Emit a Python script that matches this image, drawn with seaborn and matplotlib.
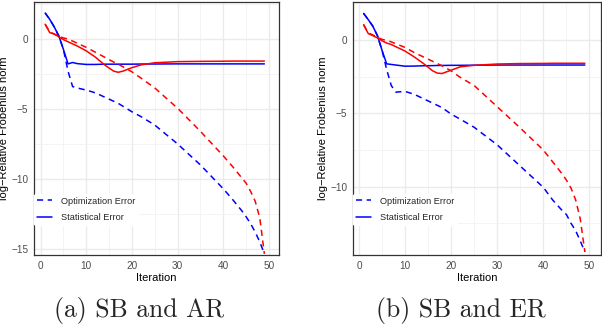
import matplotlib
matplotlib.use("Agg")
import numpy as np
import pandas as pd
import matplotlib.pyplot as plt
import seaborn as sns
from matplotlib.lines import Line2D
from matplotlib.ticker import MultipleLocator

# ── Data ──────────────────────────────────────────────────────
ITER = [1, 2, 3, 4, 5, 6, 7, 8, 10, 12, 14, 16, 17, 18, 20, 22, 25,
        30, 35, 40, 42, 44, 45, 46, 47, 48, 49]

# (a) SB and AR
AR_BLUE_OPT  = [1.85, 1.4, 0.85, 0.2, -0.75, -2.3, -3.4, -3.5, -3.65, -3.85, -4.15, -4.45,
                -4.6, -4.8, -5.2, -5.55, -6.15, -7.5, -9.0, -10.7, -11.45, -12.25, -12.7,
                -13.2, -13.8, -14.5, -15.35]
AR_BLUE_STAT = [1.85, 1.4, 0.85, 0.2, -0.75, -1.78, -1.68, -1.76, -1.82, -1.82, -1.8, -1.8,
                -1.8, -1.8, -1.8, -1.79, -1.79, -1.78, -1.78, -1.78, -1.78, -1.78, -1.78,
                -1.78, -1.78, -1.78, -1.78]
AR_RED_OPT   = [1.05, 0.5, 0.35, 0.2, 0.07, 0.0, -0.15, -0.3, -0.6, -0.95, -1.3, -1.65,
                -1.8, -1.98, -2.35, -2.8, -3.5, -4.95, -6.6, -8.35, -9.1, -9.9, -10.3,
                -10.9, -11.6, -12.8, -15.35]
AR_RED_STAT  = [1.05, 0.45, 0.35, 0.15, -0.05, -0.2, -0.35, -0.5, -0.85, -1.3, -1.85, -2.3,
                -2.38, -2.3, -2.05, -1.85, -1.7, -1.62, -1.6, -1.59, -1.58, -1.58, -1.58,
                -1.58, -1.58, -1.58, -1.58]

# (b) SB and ER
ER_BLUE_OPT  = [1.82, 1.4, 0.95, 0.3, -0.7, -2.0, -3.1, -3.55, -3.5, -3.7, -4.0, -4.3,
                -4.45, -4.6, -5.05, -5.4, -5.95, -7.15, -8.6, -10.05, -10.9, -11.6, -11.9,
                -12.5, -13.0, -13.7, -14.45]
ER_BLUE_STAT = [1.82, 1.4, 0.95, 0.3, -0.7, -1.62, -1.66, -1.7, -1.78, -1.77, -1.75, -1.74,
                -1.73, -1.73, -1.72, -1.72, -1.71, -1.7, -1.7, -1.7, -1.7, -1.7, -1.7,
                -1.7, -1.7, -1.7, -1.7]
ER_RED_OPT   = [1.05, 0.5, 0.35, 0.2, 0.05, -0.02, -0.12, -0.25, -0.5, -0.85, -1.15, -1.45,
                -1.6, -1.75, -2.1, -2.55, -3.1, -4.55, -6.0, -7.5, -8.3, -9.1, -9.55,
                -10.1, -10.9, -12.2, -14.45]
ER_RED_STAT  = [1.05, 0.45, 0.3, 0.15, -0.05, -0.2, -0.3, -0.45, -0.75, -1.15, -1.6, -2.1,
                -2.25, -2.28, -2.05, -1.82, -1.72, -1.63, -1.6, -1.59, -1.58, -1.58, -1.58,
                -1.58, -1.58, -1.58, -1.58]

CAPTIONS = ["(a) SB and AR", "(b) SB and ER"]
Y_TICKS  = [[0, -5, -10, -15], [0, -5, -10]]
Y_LIMS   = [(-15.43, 2.64), (-14.66, 2.6)]
X_LIMS   = [(-1.45, 52.2), (-1.3, 52.5)]

PALETTE = {"blue": "#0000FF", "red": "#FF0000"}
DASHES  = {"Optimization Error": (4, 3), "Statistical Error": ""}


def panel_frame(blue_opt, blue_stat, red_opt, red_stat):
    parts = []
    for colour, kind, vals in [("blue", "Optimization Error", blue_opt),
                               ("blue", "Statistical Error", blue_stat),
                               ("red", "Optimization Error", red_opt),
                               ("red", "Statistical Error", red_stat)]:
        parts.append(pd.DataFrame({"Iteration": ITER, "value": vals,
                                   "colour": colour, "error": kind}))
    return pd.concat(parts, ignore_index=True)


frames = [panel_frame(AR_BLUE_OPT, AR_BLUE_STAT, AR_RED_OPT, AR_RED_STAT),
          panel_frame(ER_BLUE_OPT, ER_BLUE_STAT, ER_RED_OPT, ER_RED_STAT)]

sns.set_theme(style="whitegrid")
plt.rcParams["font.family"] = ["Liberation Sans", "DejaVu Sans"]

fig = plt.figure(figsize=(6.02, 3.30), dpi=100)
axes_pos = [[34 / 602, 75 / 330, 245 / 602, 253 / 330],
            [353 / 602, 75 / 330, 248 / 602, 253 / 330]]
caption_x = [139 / 602, 461 / 602]

for i, df in enumerate(frames):
    ax = fig.add_axes(axes_pos[i])
    sns.lineplot(data=df, x="Iteration", y="value", hue="colour", style="error",
                 palette=PALETTE, dashes=DASHES, estimator=None, sort=False,
                 linewidth=1.1, legend=False, ax=ax)

    ax.set_xlim(*X_LIMS[i])
    ax.set_ylim(*Y_LIMS[i])
    ax.set_xticks([0, 10, 20, 30, 40, 50])
    ax.set_yticks(Y_TICKS[i])
    ax.xaxis.set_minor_locator(MultipleLocator(5))
    ax.yaxis.set_minor_locator(MultipleLocator(2.5))
    ax.grid(which="major", color="#EBEBEB", linewidth=1.0)
    ax.grid(which="minor", color="#F2F2F2", linewidth=0.6)
    ax.set_axisbelow(True)
    ax.tick_params(axis="both", which="major", length=2.5, width=0.6,
                   color="#333333", labelsize=7.2, labelcolor="#4D4D4D", pad=1.5)
    ax.tick_params(axis="both", which="minor", length=0)
    for s in ax.spines.values():
        s.set_color("#333333")
        s.set_linewidth(0.9)

    ax.set_xlabel("Iteration", fontsize=8, color="black", labelpad=2)
    ax.set_ylabel("log\u2212Relative Frobenius norm", fontsize=8,
                  color="black", labelpad=2)

    handles = [Line2D([0], [0], color="#0000FF", lw=1.1, ls=(0, (4, 3))),
               Line2D([0], [0], color="#0000FF", lw=1.1)]
    leg = ax.legend(handles, ["Optimization Error", "Statistical Error"],
                    loc="center left", bbox_to_anchor=(0.0, 0.18),
                    fontsize=6.6, frameon=True, handlelength=1.7,
                    handletextpad=0.9, labelspacing=0.85, borderpad=0.3,
                    borderaxespad=0.0)
    leg.get_frame().set_facecolor("white")
    leg.get_frame().set_edgecolor("white")
    leg.get_frame().set_alpha(1.0)

    fig.text(caption_x[i], 1 - 311 / 330, CAPTIONS[i], family="cmr10",
             fontsize=18.5, ha="center", va="center")

fig.savefig("out.png", dpi=100)
